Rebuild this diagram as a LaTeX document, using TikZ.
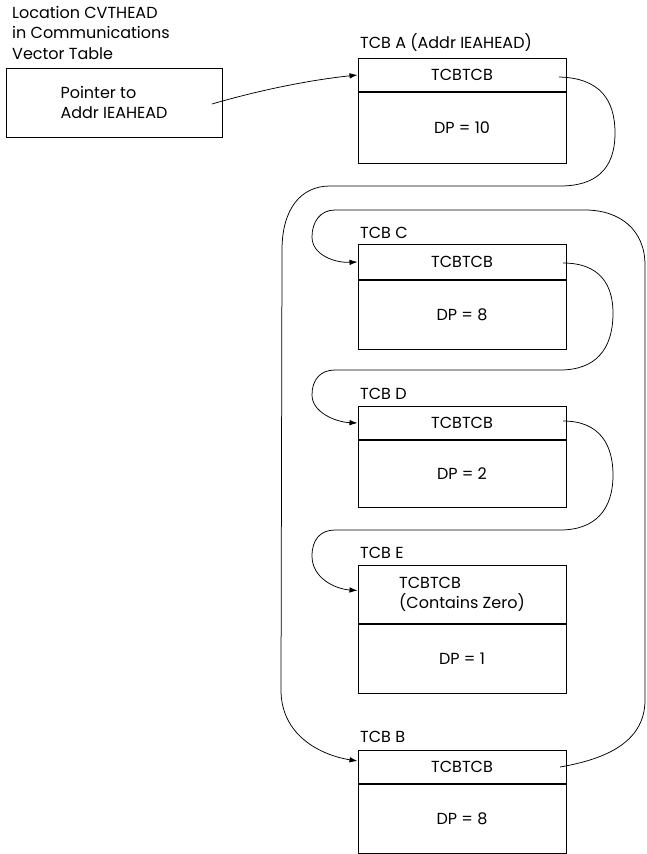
\documentclass[tikz,border=0pt]{standalone}
\usepackage{fontspec}
\setmainfont{Poppins}
\usetikzlibrary{arrows.meta,calc}
\begin{document}
\begin{tikzpicture}[x=1pt,y=-1pt,
  every node/.style={font=\fontsize{16}{20.5}\selectfont, inner sep=0pt},
  field/.style={draw, line width=1pt, minimum width=208pt, anchor=north},
  lbl/.style={anchor=west},
  link/.style={line width=0.75pt, -{Latex[length=8pt,width=5.5pt]}}]
\useasboundingbox (0,0) rectangle (647,854);
% left pointer box
\node[lbl, align=left, anchor=north west] (loc) at (12,6) {Location CVTHEAD\\in Communications\\Vector Table};
\node[draw, line width=1pt, minimum width=216pt, minimum height=69pt, align=left] (ptr) at (114,102.5) {Pointer to\\Addr IEAHEAD};
\coordinate (ptrS) at (212,104);
% TCB A
\node[lbl] (la) at (360,43) {TCB A (Addr IEAHEAD)};
\node[field, minimum height=33pt] (aT) at (462,58) {TCBTCB};
\node[field, minimum height=71pt] (aB) at (aT.south) {DP = 10};
\coordinate (aS) at (559,77);
% TCB C
\node[lbl] (lc) at (360,233) {TCB C};
\node[field, minimum height=35pt] (cT) at (462,244) {TCBTCB};
\node[field, minimum height=69pt] (cB) at (cT.south) {DP = 8};
\coordinate (cS) at (563,263);
% TCB D
\node[lbl] (ld) at (360,394) {TCB D};
\node[field, minimum height=33pt] (dT) at (462,406) {TCBTCB};
\node[field, minimum height=67pt] (dB) at (dT.south) {DP = 2};
\coordinate (dS) at (563,421);
% TCB E
\node[lbl] (le) at (360,553) {TCB E};
\node[field, minimum height=58pt, align=left] (eT) at (462,565) {TCBTCB\\(Contains Zero)};
\node[field, minimum height=69pt] (eB) at (eT.south) {DP = 1};
% TCB B
\node[lbl] (lb) at (360,737) {TCB B};
\node[field, minimum height=33pt] (bT) at (462,750) {TCBTCB};
\node[field, minimum height=69pt] (bB) at (bT.south) {DP = 8};
\coordinate (bS) at (560,767);
% connectors
\draw[link] (ptrS) .. controls (260,90) and (310,80) .. (aT.west);
\draw[link] (aS) .. controls (600,78) and (615,100) .. (615,133)
   .. controls (615,170) and (595,186) .. (560,186) -- (330,186)
   .. controls (300,186) and (282,210) .. (282,250) -- (281,690)
   .. controls (281,735) and (320,755) .. ([yshift=6pt]bT.west);
\draw[link] (bS) .. controls (600,760) and (645,745) .. (645,700) -- (645,265)
   .. controls (645,230) and (620,210) .. (585,210) -- (335,210)
   .. controls (320,210) and (312,222) .. (312,237)
   .. controls (312,255) and (335,263) .. (cT.west);
\draw[link] (cS) .. controls (600,263) and (613,285) .. (613,313)
   .. controls (613,350) and (595,370) .. (560,370) -- (335,370)
   .. controls (320,370) and (312,380) .. (312,395)
   .. controls (312,412) and (335,422) .. (dT.west);
\draw[link] (dS) .. controls (600,421) and (613,445) .. (613,475)
   .. controls (613,510) and (595,530) .. (560,530) -- (335,530)
   .. controls (320,530) and (312,540) .. (312,556)
   .. controls (312,578) and (335,589) .. ([yshift=4pt]eT.west);
\end{tikzpicture}
\end{document}
